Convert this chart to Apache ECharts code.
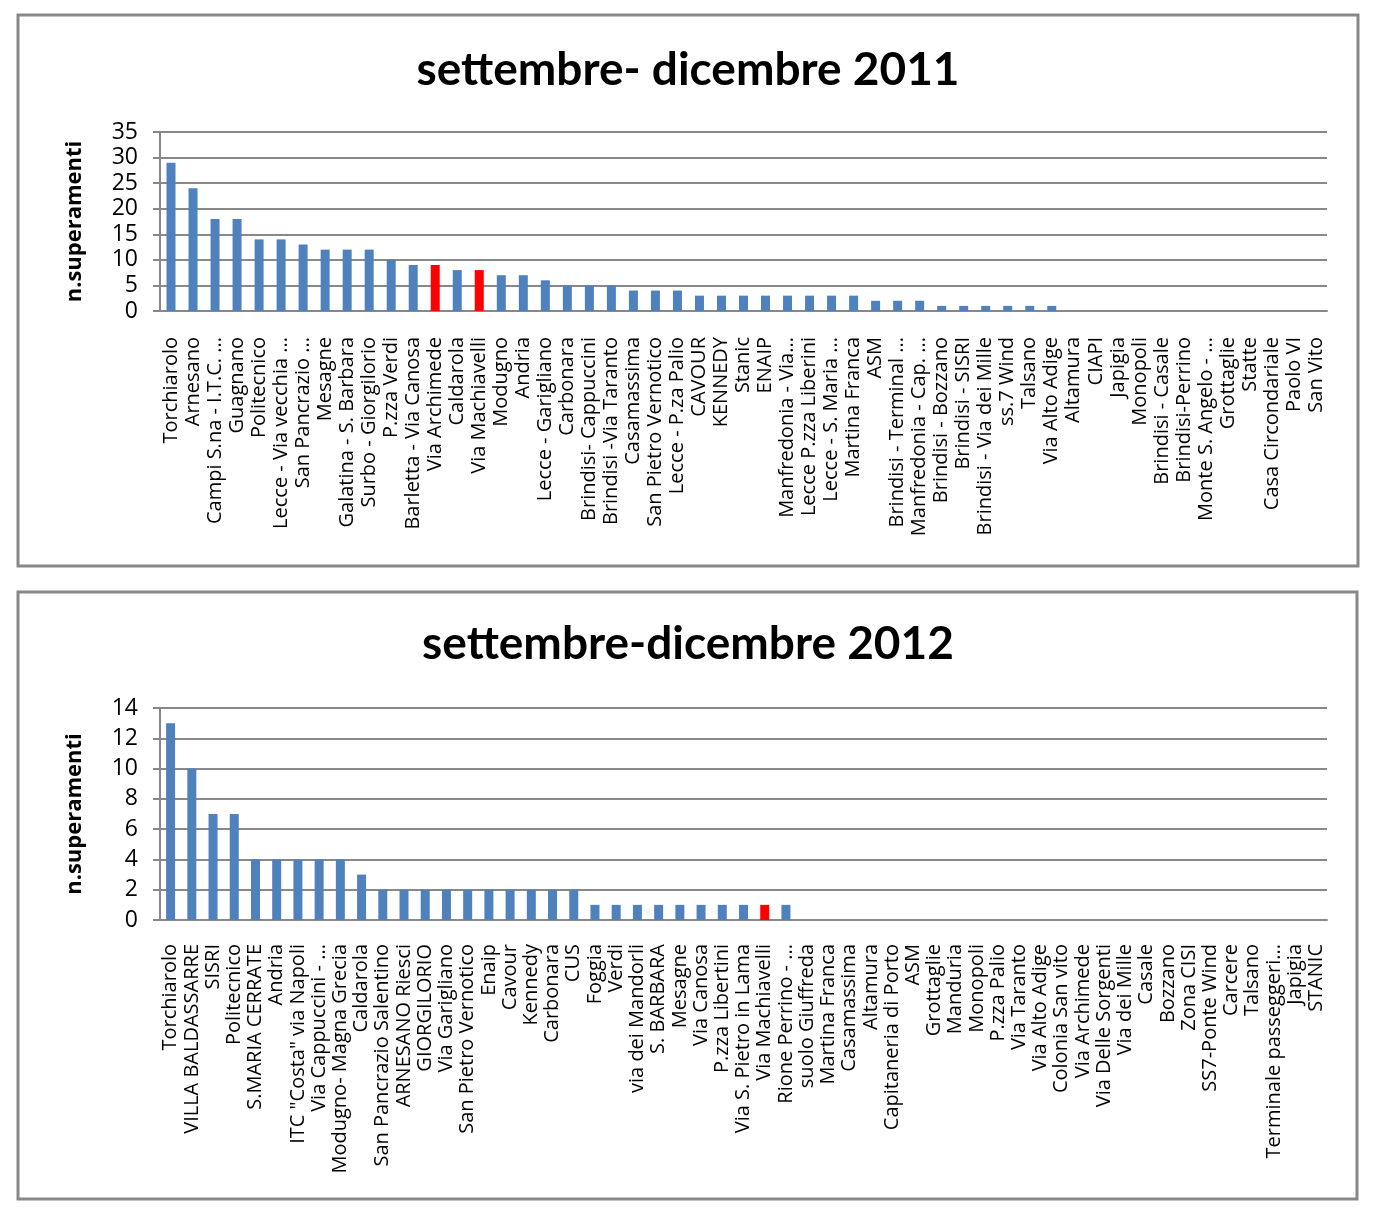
<!DOCTYPE html>
<html>
<head>
<meta charset="utf-8">
<script src="https://cdn.jsdelivr.net/npm/echarts@6/dist/echarts.min.js"></script>
<style>
  html, body { margin: 0; padding: 0; background: #fff; }
  #chart { width: 1376px; height: 1223px; }
</style>
</head>
<body>
<div id="chart"></div>
<script>
// settembre-dicembre 2011
var stations2011 = [
  'Torchiarolo', 'Arnesano', 'Campi S.na - I.T.C. ...', 'Guagnano', 'Politecnico',
  'Lecce - Via vecchia ...', 'San Pancrazio ...', 'Mesagne', 'Galatina - S. Barbara',
  'Surbo - Giorgilorio', 'P.zza Verdi', 'Barletta - Via Canosa', 'Via Archimede',
  'Caldarola', 'Via Machiavelli', 'Modugno', 'Andria', 'Lecce - Garigliano', 'Carbonara',
  'Brindisi- Cappuccini', 'Brindisi -Via Taranto', 'Casamassima', 'San Pietro Vernotico',
  'Lecce - P.za Palio', 'CAVOUR', 'KENNEDY', 'Stanic', 'ENAIP', 'Manfredonia - Via...',
  'Lecce P.zza Liberini', 'Lecce - S. Maria ...', 'Martina Franca', 'ASM',
  'Brindisi - Terminal ...', 'Manfredonia - Cap. ...', 'Brindisi - Bozzano',
  'Brindisi - SISRI', 'Brindisi - Via dei Mille', 'ss.7 Wind', 'Talsano', 'Via Alto Adige',
  'Altamura', 'CIAPI', 'Japigia', 'Monopoli', 'Brindisi - Casale', 'Brindisi-Perrino',
  'Monte S. Angelo - ...', 'Grottaglie', 'Statte', 'Casa Circondariale', 'Paolo VI', 'San Vito'
];
var values2011 = [
  29, 24, 18, 18, 14, 14, 13, 12, 12, 12, 10, 9, 9, 8, 8, 7, 7, 6, 5, 5, 5, 4, 4, 4,
  3, 3, 3, 3, 3, 3, 3, 3, 2, 2, 2, 1, 1, 1, 1, 1, 1,
  0, 0, 0, 0, 0, 0, 0, 0, 0, 0, 0, 0
];
var red2011 = ['Via Archimede', 'Via Machiavelli'];

// settembre-dicembre 2012
var stations2012 = [
  'Torchiarolo', 'VILLA BALDASSARRE', 'SISRI', 'Politecnico', 'S.MARIA CERRATE', 'Andria',
  'ITC "Costa" via Napoli', 'Via Cappuccini - ...', 'Modugno- Magna Grecia', 'Caldarola',
  'San Pancrazio Salentino', 'ARNESANO Riesci', 'GIORGILORIO', 'Via Garigliano',
  'San Pietro Vernotico', 'Enaip', 'Cavour', 'Kennedy', 'Carbonara', 'CUS', 'Foggia', 'Verdi',
  'via dei Mandorli', 'S. BARBARA', 'Mesagne', 'Via Canosa', 'P.zza Libertini',
  'Via S. Pietro in Lama', 'Via Machiavelli', 'Rione Perrino - ...', 'suolo Giuffreda',
  'Martina Franca', 'Casamassima', 'Altamura', 'Capitaneria di Porto', 'ASM', 'Grottaglie',
  'Manduria', 'Monopoli', 'P.zza Palio', 'Via Taranto', 'Via Alto Adige', 'Colonia San vito',
  'Via Archimede', 'Via Delle Sorgenti', 'Via dei Mille', 'Casale', 'Bozzano', 'Zona CISI',
  'SS7-Ponte Wind', 'Carcere', 'Talsano', 'Terminale passeggeri...', 'Japigia', 'STANIC'
];
var values2012 = [
  13, 10, 7, 7, 4, 4, 4, 4, 4, 3, 2, 2, 2, 2, 2, 2, 2, 2, 2, 2,
  1, 1, 1, 1, 1, 1, 1, 1, 1, 1,
  0, 0, 0, 0, 0, 0, 0, 0, 0, 0, 0, 0, 0, 0, 0, 0, 0, 0, 0, 0, 0, 0, 0, 0, 0
];
var red2012 = ['Via Machiavelli'];

var FONT = 'Open Sans';
var TITLE_FONT = 'Lato';
var GRAY = '#888888';
var BLUE = '#4f81bd';
var RED = '#ff0000';

function barData(names, values, reds) {
  return values.map(function (v, i) {
    return {
      value: v,
      itemStyle: { color: reds.indexOf(names[i]) >= 0 ? RED : BLUE }
    };
  });
}

function xAxisFor(idx, names, margin) {
  return {
    type: 'category',
    gridIndex: idx,
    data: names,
    axisLine: { lineStyle: { color: GRAY, width: 2 } },
    axisTick: { length: 6, lineStyle: { color: GRAY, width: 2 } },
    axisLabel: {
      interval: 0,
      rotate: 90,
      margin: margin,
      fontFamily: FONT,
      fontSize: 20,
      color: '#000'
    }
  };
}

function yAxisFor(idx, max, step) {
  return {
    type: 'value',
    gridIndex: idx,
    min: 0,
    max: max,
    interval: step,
    name: 'n.superamenti',
    nameLocation: 'middle',
    nameRotate: 90,
    nameGap: 74,
    nameTextStyle: { fontFamily: FONT, fontSize: 22, fontWeight: 'bold', color: '#000' },
    axisLine: { show: true, lineStyle: { color: GRAY, width: 2 } },
    axisTick: { show: true, length: 7, lineStyle: { color: GRAY, width: 2 } },
    splitLine: { lineStyle: { color: GRAY, width: 2 } },
    axisLabel: { fontFamily: FONT, fontSize: 23, color: '#000', margin: 22 }
  };
}

var chart = echarts.init(document.getElementById('chart'));

chart.setOption({
  backgroundColor: '#fff',
  animation: false,
  title: [
    {
      text: 'settembre- dicembre 2011',
      left: 'center',
      top: 42,
      textStyle: { fontFamily: TITLE_FONT, fontSize: 46, fontWeight: 'bold', color: '#000' }
    },
    {
      text: 'settembre-dicembre 2012',
      left: 'center',
      top: 616,
      textStyle: { fontFamily: TITLE_FONT, fontSize: 46, fontWeight: 'bold', color: '#000' }
    }
  ],
  graphic: [
    {
      type: 'rect',
      shape: { x: 18, y: 15, width: 1340, height: 551 },
      style: { fill: 'none', stroke: GRAY, lineWidth: 3 }
    },
    {
      type: 'rect',
      shape: { x: 18, y: 592, width: 1339, height: 607 },
      style: { fill: 'none', stroke: GRAY, lineWidth: 3 }
    }
  ],
  grid: [
    { left: 160, right: 49, top: 132, height: 179 },
    { left: 160, right: 49, top: 708, height: 212 }
  ],
  xAxis: [
    xAxisFor(0, stations2011, 26),
    xAxisFor(1, stations2012, 24)
  ],
  yAxis: [
    yAxisFor(0, 35, 5),
    yAxisFor(1, 14, 2)
  ],
  series: [
    {
      type: 'bar',
      xAxisIndex: 0,
      yAxisIndex: 0,
      barWidth: 9,
      data: barData(stations2011, values2011, red2011)
    },
    {
      type: 'bar',
      xAxisIndex: 1,
      yAxisIndex: 1,
      barWidth: 9,
      data: barData(stations2012, values2012, red2012)
    }
  ]
});
</script>
</body>
</html>
